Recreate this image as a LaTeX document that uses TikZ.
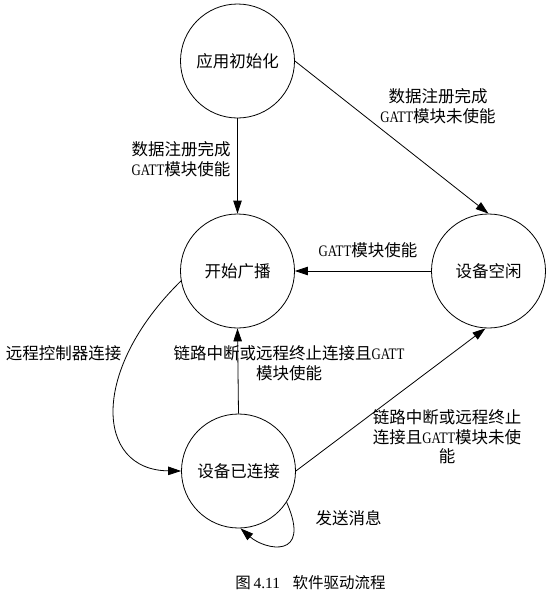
\documentclass[tikz,border=0pt]{standalone}
\usepackage{fontspec}
\usepackage{graphicx}
\setmainfont{Liberation Serif}
\newfontfamily\cjk{Noto Sans CJK SC}
\newfontfamily\lat{Liberation Serif}
\usetikzlibrary{arrows.meta}
\newcommand\gatt{{\lat\fontsize{16}{18}\selectfont\scalebox{0.8}[1]{GATT}}}
\begin{document}
\begin{tikzpicture}[x=1pt,y=-1pt,
  state/.style={circle,draw,line width=0.8pt,minimum size=114pt,inner sep=0pt,font=\cjk\fontsize{16.5}{19.5}\selectfont},
  lbl/.style={align=center,inner sep=0pt,font=\cjk\fontsize{16.5}{19.5}\selectfont},
  arr/.style={draw,line width=0.8pt,-{Triangle[length=13pt,width=8.5pt]}}]
\useasboundingbox (0,0) rectangle (552,598);

\node[state] (A) at (237.5,61) {应用初始化};
\node[state] (B) at (237.5,271) {开始广播};
\node[state] (C) at (488.5,271) {设备空闲};
\node[state] (D) at (238.5,471) {设备已连接};

\draw[arr] (A.south) -- (B.north);
\draw[arr] (A.east) -- (C.north);
\draw[arr] (C.west) -- (B.east);
\draw[arr] (D.north) -- (B.south);
\draw[arr] (D.east) -- (C.-93);
\draw[arr] (B.190) .. controls (90,370) and (95,470) .. (D.west);
\draw[arr] (D.-33) .. controls (312,560) and (265,550) .. (D.-88);

\node[lbl] (l1) at (181,159) {数据注册完成\\\gatt 模块使能};
\node[lbl] (l2) at (438,106) {数据注册完成\\\gatt 模块未使能};
\node[lbl] (l3) at (368,250) {\gatt 模块使能};
\node[lbl] (l4) at (289,363) {链路中断或远程终止连接且\gatt\\模块使能};
\node[lbl] (l5) at (447,437) {链路中断或远程终止\\连接且\gatt 模块未使\\能};
\node[lbl] (l6) at (63.5,353) {远程控制器连接};
\node[lbl] (l7) at (348.5,518) {发送消息};

\node[inner sep=0pt,font=\fontsize{15.5}{18}\selectfont] (cap) at (310.5,583) {{\cjk 图}\,4.11\hspace{0.8em}{\cjk 软件驱动流程}};
\end{tikzpicture}
\end{document}
